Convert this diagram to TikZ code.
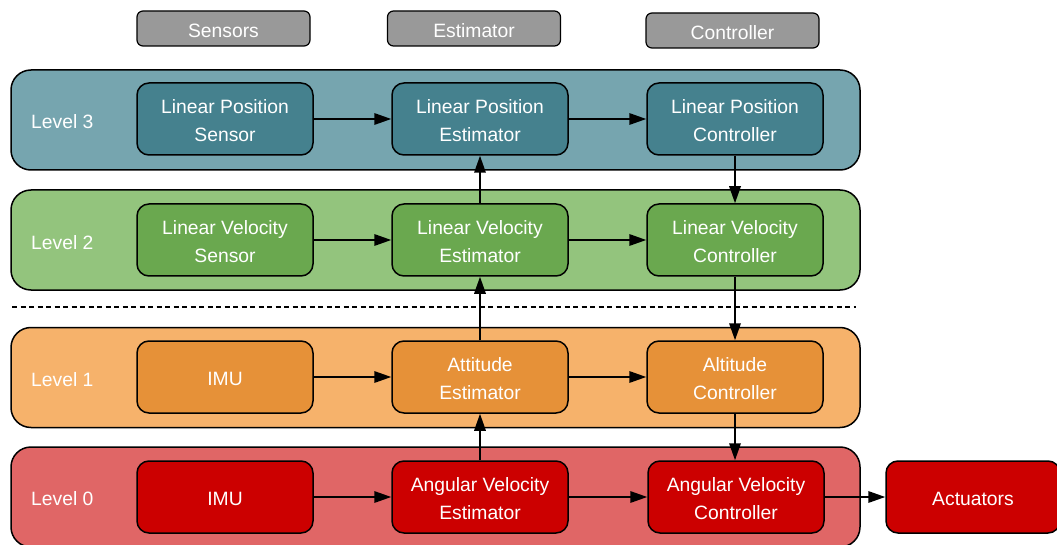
\documentclass[tikz,border=0pt]{standalone}
\usepackage{fontspec}
\setmainfont{Liberation Sans}
\usetikzlibrary{arrows.meta}
\definecolor{tealL}{HTML}{76A5AF}
\definecolor{tealD}{HTML}{45818E}
\definecolor{greenL}{HTML}{93C47D}
\definecolor{greenD}{HTML}{6AA84F}
\definecolor{orangeL}{HTML}{F6B26B}
\definecolor{orangeD}{HTML}{E69138}
\definecolor{redL}{HTML}{E06666}
\definecolor{redD}{HTML}{CC0000}
\definecolor{hdr}{HTML}{999999}
\newcommand\TT[1]{\raisebox{-3pt}[\height][\depth]{\begin{tabular}{@{}c@{}}#1\end{tabular}}}
\begin{document}
\begin{tikzpicture}[x=1pt,y=-1pt,
  txt/.style={font=\fontsize{19.3}{28}\selectfont, text=white},
  band/.style={draw=black, line width=1.5pt, rounded corners=20pt, minimum width=849pt, minimum height=100pt, inner sep=0pt},
  inbox/.style={draw=black, line width=1.5pt, rounded corners=12pt, minimum width=176pt, minimum height=72pt, inner sep=0pt, txt},
  hbox/.style={draw=black, line width=1.2pt, rounded corners=6pt, fill=hdr, minimum width=173pt, minimum height=35pt, inner sep=0pt, txt},
  lbl/.style={txt, anchor=west, inner sep=0pt},
  arr/.style={line width=1.7pt, -{Triangle[length=17pt,width=11.5pt]}}
]
\useasboundingbox (0,0) rectangle (1057,545);
\begin{scope}
\clip (0,0) rectangle (1057,545);
% header boxes
\node[hbox] (hs) at (223.5,28.5) {\TT{Sensors}};
\node[hbox] (he) at (474,28.5) {\TT{Estimator}};
\node[hbox] (hc) at (732.5,30.5) {\TT{Controller}};
% bands
\node[band, fill=tealL] (b3) at (435.5,120) {};
\node[band, fill=greenL] (b2) at (435.5,240) {};
\node[band, fill=orangeL] (b1) at (435.5,377.5) {};
\node[band, fill=redL] (b0) at (435.5,497) {};
\node[lbl] (l3) at (31,120) {\TT{Level 3}};
\node[lbl] (l2) at (31,241) {\TT{Level 2}};
\node[lbl] (l1) at (31,378) {\TT{Level 1}};
\node[lbl] (l0) at (31,497) {\TT{Level 0}};
% dashed separator
\coordinate (d1) at (12,307);
\coordinate (d2) at (856,307);
\draw[line width=2.6pt, dash pattern=on 5pt off 3.5pt] (d1) -- (d2);
% row 3
\node[inbox, fill=tealD] (s3) at (225,119) {\TT{Linear Position\\Sensor}};
\node[inbox, fill=tealD] (e3) at (480,119) {\TT{Linear Position\\Estimator}};
\node[inbox, fill=tealD] (c3) at (735,119) {\TT{Linear Position\\Controller}};
% row 2
\node[inbox, fill=greenD] (s2) at (225,240) {\TT{Linear Velocity\\Sensor}};
\node[inbox, fill=greenD] (e2) at (480,240) {\TT{Linear Velocity\\Estimator}};
\node[inbox, fill=greenD] (c2) at (735,240) {\TT{Linear Velocity\\Controller}};
% row 1
\node[inbox, fill=orangeD] (s1) at (225,377) {\TT{IMU}};
\node[inbox, fill=orangeD] (e1) at (480,377) {\TT{Attitude\\Estimator}};
\node[inbox, fill=orangeD] (c1) at (735,377) {\TT{Altitude\\Controller}};
% row 0
\node[inbox, fill=redD] (s0) at (225,497) {\TT{IMU}};
\node[inbox, fill=redD] (e0) at (480,497) {\TT{Angular Velocity\\Estimator}};
\node[inbox, fill=redD] (c0) at (736,497) {\TT{Angular Velocity\\Controller}};
\node[inbox, fill=redD, minimum width=174pt] (act) at (973,497) {\TT{Actuators}};
% arrows
\foreach \r in {3,2,1,0} {
  \draw[arr] (s\r) -- (e\r);
  \draw[arr] (e\r) -- (c\r);
}
\draw[arr] (e2) -- (e3);
\draw[arr] (e1) -- (e2);
\draw[arr] (e0) -- (e1);
\draw[arr] (c3) -- (c2);
\draw[arr] (c2) -- (c1);
\draw[arr] (c1.south) -- (c1.south |- c0.north);
\draw[arr] (c0) -- (act);
\end{scope}
\end{tikzpicture}
\end{document}
